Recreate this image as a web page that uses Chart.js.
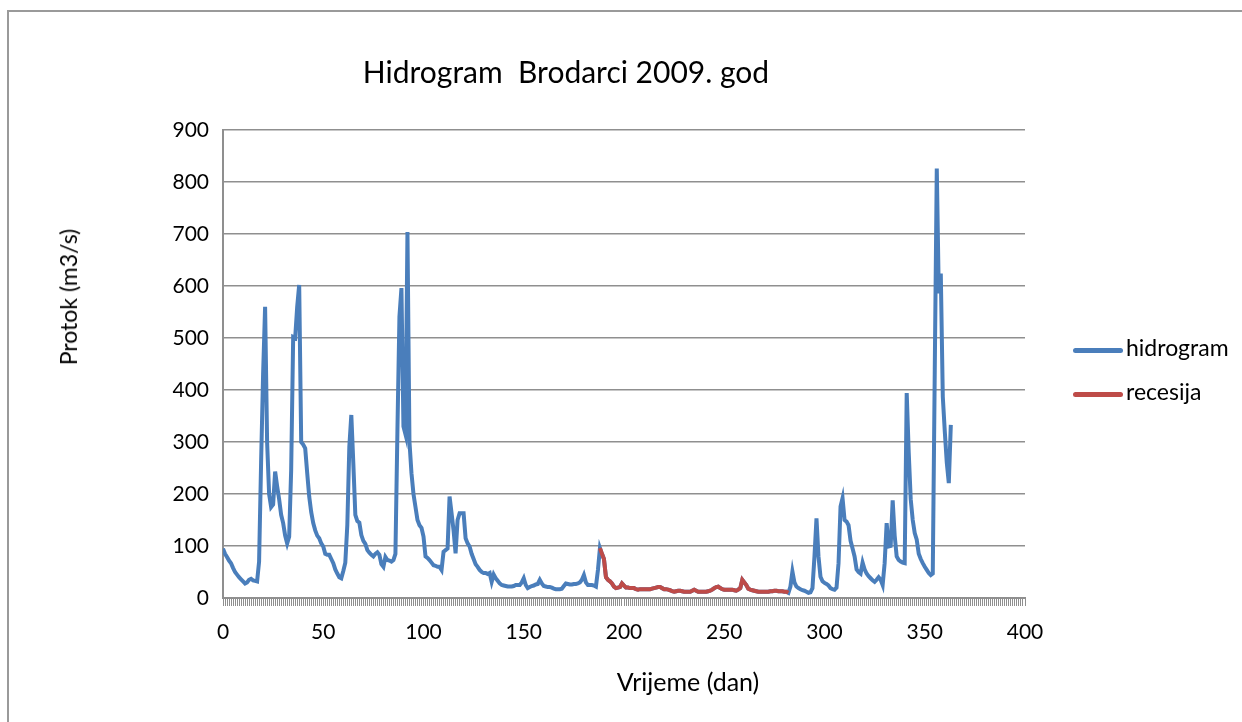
<!DOCTYPE html>
<html>
<head>
<meta charset="utf-8">
<script src="https://cdn.jsdelivr.net/npm/chart.js@4/dist/chart.umd.min.js"></script>
<style>
  body { margin: 0; background: #fff; font-family: Lato, "Open Sans", sans-serif; }
  #wrap { position: relative; width: 1242px; height: 722px; overflow: hidden; }
  #frame { position: absolute; left: 7px; top: 10px; width: 1300px; height: 800px;
           border-top: 2px solid #9a9a9a; border-left: 2px solid #9a9a9a; }
  canvas { position: absolute; left: 0; top: 0; }
  .txt { position: absolute; color: #000; white-space: pre; }
  #title { left: 566px; top: 71px; font-size: 30px; transform: translate(-50%, -50%); }
  #ytitle { left: 68px; top: 297px; font-size: 23px; transform: translate(-50%, -50%) rotate(-90deg); }
  #xtitle { left: 688px; top: 681px; font-size: 25px; transform: translate(-50%, -50%); }
  .leg { position: absolute; left: 1073px; font-size: 23px; line-height: 28px; }
  .leg span { display: inline-block; width: 50px; height: 5px; border-radius: 3px; vertical-align: middle; margin-right: 3px; }
</style>
</head>
<body>
<div id="wrap">
  <div id="frame"></div>
  <canvas id="chart" width="1242" height="722"></canvas>
  <div class="txt" id="title">Hidrogram  Brodarci 2009. god</div>
  <div class="txt" id="ytitle">Protok (m3/s)</div>
  <div class="txt" id="xtitle">Vrijeme (dan)</div>
  <div class="leg" style="top:333px"><span style="background:#4a7ebb"></span>hidrogram</div>
  <div class="leg" style="top:377px"><span style="background:#be4b48"></span>recesija</div>
</div>
<script>
// dnevni protok (m3/s), dan 0..363
const flow = [
  95, 85, 79, 72, 67, 58, 50, 45, 40, 36,
  32, 28, 30, 35, 37, 34, 33, 32, 70, 260,
  430, 560, 300, 200, 175, 180, 243, 215, 190, 160,
  144, 120, 105, 118, 246, 502, 500, 560, 602, 300,
  295, 288, 240, 195, 165, 144, 130, 120, 115, 105,
  99, 85, 83, 83, 75, 67, 55, 47, 40, 38,
  52, 68, 140, 290, 352, 259, 160, 148, 145, 121,
  110, 104, 92, 87, 83, 80, 85, 88, 83, 65,
  60, 79, 73, 72, 70, 73, 85, 323, 541, 596,
  330, 315, 704, 300, 240, 200, 175, 150, 140, 135,
  118, 80, 77, 73, 68, 63, 62, 60, 60, 54,
  89, 92, 95, 195, 163, 130, 86, 150, 163, 163,
  163, 115, 105, 99, 85, 75, 65, 60, 54, 50,
  48, 48, 46, 48, 31, 45, 38, 33, 28, 25,
  24, 23, 22, 22, 22, 23, 25, 25, 25, 30,
  38, 25, 19, 21, 23, 24, 26, 27, 35, 28,
  23, 22, 21, 21, 20, 18, 17, 17, 17, 18,
  23, 28, 27, 26, 26, 27, 27, 28, 30, 35,
  44, 30, 25, 25, 25, 24, 22, 54, 96, 85,
  75, 40, 35, 32, 28, 22, 19, 20, 21, 28,
  24, 20, 20, 19, 19, 19, 17, 16, 17, 17,
  17, 17, 17, 17, 18, 19, 20, 21, 21, 19,
  17, 17, 16, 15, 13, 12, 13, 14, 14, 13,
  12, 12, 12, 12, 14, 16, 14, 12, 12, 12,
  12, 12, 13, 14, 16, 19, 21, 22, 19, 17,
  16, 16, 16, 16, 16, 15, 14, 16, 19, 35,
  30, 25, 18, 16, 15, 14, 13, 12, 12, 12,
  12, 12, 12, 13, 13, 14, 14, 13, 13, 13,
  12, 12, 10, 22, 51, 30, 22, 19, 17, 15,
  14, 12, 10, 11, 19, 80, 153, 80, 41, 32,
  29, 27, 24, 19, 17, 16, 20, 67, 176, 192,
  150, 147, 140, 110, 95, 80, 55, 50, 47, 68,
  55, 47, 42, 38, 34, 31, 35, 40, 35, 25,
  67, 144, 99, 100, 188, 120, 80, 73, 70, 68,
  67, 394, 280, 190, 150, 125, 112, 85, 75, 67,
  60, 54, 48, 44, 47, 440, 826, 586, 624, 387,
  320, 260, 221, 333
];
// recesija: dan 188..282
const recessionStart = 188;
const recessionEnd = 282;

const xTicks = [0, 50, 100, 150, 200, 250, 300, 350, 400];
const yTicks = [0, 100, 200, 300, 400, 500, 600, 700, 800, 900];

const hydroPts = flow.map((v, i) => ({ x: i, y: v }));
const recessionPts = hydroPts.filter(p => p.x >= recessionStart && p.x <= recessionEnd);

const axisColor = "#8f8f8f";
const tickFont = { family: "Lato", size: 21 };

new Chart(document.getElementById("chart"), {
  type: "line",
  data: {
    datasets: [
      { label: "hidrogram", data: hydroPts, borderColor: "#4a7ebb", borderWidth: 4,
        pointRadius: 0, tension: 0, order: 2 },
      { label: "recesija", data: recessionPts, borderColor: "#be4b48", borderWidth: 4,
        pointRadius: 0, tension: 0, order: 1 }
    ]
  },
  options: {
    responsive: false,
    animation: false,
    layout: { padding: { top: 130, right: 217, bottom: 0, left: 0 } },
    plugins: { legend: { display: false }, title: { display: false }, tooltip: { enabled: false } },
    scales: {
      x: {
        type: "linear", min: 0, max: 400,
        afterFit: s => { s.height = 124; },
        border: { display: true, color: axisColor, width: 2 },
        grid: { drawOnChartArea: false, drawTicks: true, tickLength: 8, color: axisColor, lineWidth: 1 },
        ticks: {
          stepSize: 1, autoSkip: false, maxRotation: 0, padding: 14,
          color: "#000", font: tickFont,
          callback: v => xTicks.includes(v) ? String(v) : ""
        }
      },
      y: {
        min: 0, max: 900,
        afterFit: s => { s.width = 223; },
        border: { display: true, color: axisColor, width: 2 },
        grid: { color: axisColor, lineWidth: 1.5, drawTicks: false },
        ticks: {
          stepSize: 100, padding: 14, color: "#000", font: tickFont,
          callback: v => yTicks.includes(v) ? String(v) : ""
        }
      }
    }
  }
});
</script>
</body>
</html>
